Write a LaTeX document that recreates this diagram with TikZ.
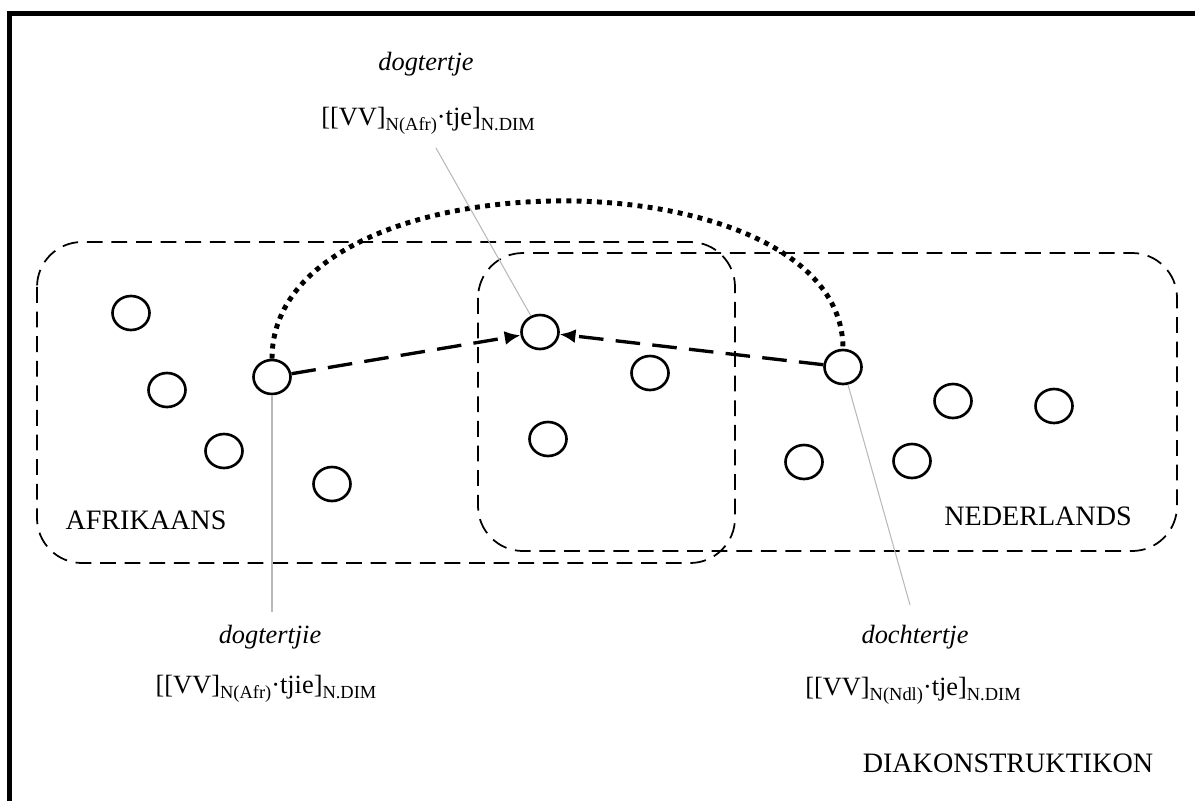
\documentclass[tikz,border=0pt]{standalone}
\usepackage{fontspec}
\setmainfont{Liberation Serif}
\usetikzlibrary{shapes.geometric,arrows.meta}
\newcommand{\sbs}[1]{\raisebox{-3pt}{\fontsize{10.5}{12}\selectfont #1}}
\begin{document}
\begin{tikzpicture}[x=0.02cm, y=-0.02cm,
    cnode/.style={draw, ellipse, line width=1.5pt, minimum width=0.74cm, minimum height=0.68cm, inner sep=0pt},
    region/.style={draw, line width=1pt, dash pattern=on 9pt off 5pt, rounded corners=0.9cm},
    link/.style={line width=1.9pt, dash pattern=on 14pt off 7pt, -{Latex[length=9pt,width=8pt]}},
    bridge/.style={line width=2.8pt, dash pattern=on 2.8pt off 3pt},
    gloss/.style={draw=gray!55, line width=0.6pt},
    lbl/.style={font=\fontsize{16}{19}\selectfont},
    word/.style={font=\fontsize{15}{18}\selectfont\itshape},
    form/.style={font=\fontsize{15}{18}\selectfont}]
\useasboundingbox (0,0) rectangle (1195,801);

% Frame
\draw[line width=2.8pt] (1195,13.5) -- (9.5,13.5) -- (9.5,801);

% Language regions
\draw[region] (37,242) rectangle (735,563);
\draw[region] (478,253) rectangle (1177,551);
\node[lbl] (afr) at (146,520) {AFRIKAANS};
\node[lbl] (ndl) at (1038,516) {NEDERLANDS};
\node[lbl] (dia) at (1008,763) {DIAKONSTRUKTIKON};

% Constructions
\node[cnode] (c1) at (131,313) {};
\node[cnode] (c2) at (167,390) {};
\node[cnode] (c3) at (224,451) {};
\node[cnode] (c4) at (332,484) {};
\node[cnode] (c5) at (272,377) {};
\node[cnode] (c6) at (540,332) {};
\node[cnode] (c7) at (548,439) {};
\node[cnode] (c8) at (650,373) {};
\node[cnode] (c9) at (843,367) {};
\node[cnode] (c10) at (804,462) {};
\node[cnode] (c11) at (912,461) {};
\node[cnode] (c12) at (953,401) {};
\node[cnode] (c13) at (1054,406) {};

% Links between constructions
\draw[bridge] (c5.north) .. controls (272,150) and (843,150) .. (c9.north);
\draw[link] (c5) -- (c6);
\draw[link] (c9) -- (c6);

% Glosses
\node[word] (wtop) at (426,64) {dogtertje};
\node[form] (ftop) at (428,121) {[[VV]\sbs{N(Afr)}·tje]\sbs{N.DIM}};
\node[word] (wafr) at (270,637) {dogtertjie};
\node[form] (fafr) at (266,689) {[[VV]\sbs{N(Afr)}·tjie]\sbs{N.DIM}};
\node[word] (wndl) at (915,637) {dochtertje};
\node[form] (fndl) at (913,691) {[[VV]\sbs{N(Ndl)}·tje]\sbs{N.DIM}};

\coordinate (gtop) at (436,148);
\coordinate (gafr) at (272,612);
\coordinate (gndl) at (910,605);
\draw[gloss] (c6) -- (gtop);
\draw[gloss] (c5) -- (gafr);
\draw[gloss] (c9) -- (gndl);
\end{tikzpicture}
\end{document}
